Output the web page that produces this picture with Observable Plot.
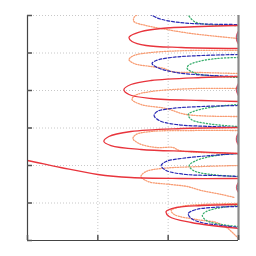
<!DOCTYPE html>
<html><head><meta charset="utf-8">
<script src="https://cdn.jsdelivr.net/npm/d3@7"></script>
<script src="https://cdn.jsdelivr.net/npm/@observablehq/plot@0.6"></script>
<style>body{margin:0;background:#fff}</style>
</head><body><div id="chart"></div>
<script>
const xTicks = [0, 1, 2, 3];
const yTicks = [0, 1, 2, 3, 4, 5, 6];

// red solid
const red1 = [[3,5.733],[2.471,5.707],[1.9,5.653],[1.614,5.573],[1.471,5.467],[1.443,5.413],[1.486,5.307],[1.686,5.2],[2.186,5.147],[3,5.12]];
const red2 = [[3,4.373],[2.471,4.347],[1.757,4.267],[1.471,4.16],[1.371,4.027],[1.443,3.893],[1.757,3.787],[2.471,3.733],[3,3.707]];
const red3 = [[3,3.013],[2.186,2.987],[1.471,2.907],[1.157,2.773],[1.086,2.64],[1.186,2.533],[1.614,2.427],[2.329,2.373],[3,2.32]];
const redLong = [[-0.1,2.16],[0,2.133],[0.471,1.947],[1,1.76],[1.471,1.68],[2.186,1.653],[3,1.653]];
const red4 = [[3,0.96],[2.471,0.933],[2.114,0.88],[1.971,0.773],[2.014,0.64],[2.329,0.48],[3,0.32]];
// blue dashed
const blue1 = [[1.729,6.05],[1.829,5.947],[1.971,5.867],[2.329,5.787],[3,5.76]];
const blue2 = [[3,4.96],[2.471,4.933],[2.043,4.88],[1.829,4.8],[1.771,4.72],[1.843,4.613],[2.114,4.48],[2.614,4.4],[3,4.373]];
const blue3 = [[3,3.6],[2.471,3.573],[2.043,3.52],[1.843,3.44],[1.8,3.333],[1.871,3.2],[2.114,3.093],[2.614,3.04],[3,3.013]];
const blue4 = [[3,2.32],[2.614,2.267],[2.186,2.187],[1.971,2.107],[1.9,2.0],[1.971,1.867],[2.257,1.76],[2.686,1.733],[3,1.707]];
const blue5 = [[3,0.907],[2.614,0.88],[2.4,0.827],[2.286,0.72],[2.329,0.587],[2.471,0.48],[2.757,0.4],[3,0.347]];
// green dotted
const green1 = [[2.271,6.05],[2.371,5.84],[2.571,5.76],[3,5.733]];
const green2 = [[3,4.88],[2.686,4.853],[2.429,4.773],[2.286,4.667],[2.271,4.587],[2.4,4.453],[2.757,4.373],[3,4.347]];
const green3 = [[3,3.627],[2.686,3.573],[2.4,3.467],[2.286,3.36],[2.329,3.227],[2.543,3.12],[3,3.04]];
const green4 = [[3,2.32],[2.686,2.267],[2.4,2.133],[2.3,2.0],[2.357,1.867],[2.614,1.76],[3,1.707]];
const green5 = [[3,0.933],[2.757,0.88],[2.543,0.773],[2.486,0.667],[2.543,0.533],[2.757,0.427],[3,0.373]];
// light orange dotted
const orange1 = [[1.586,6.05],[1.514,5.947],[1.514,5.84],[1.686,5.733],[1.9,5.653],[2.329,5.52],[3,5.387]];
const orange2 = [[3,5.067],[2.329,5.067],[1.757,5.013],[1.514,4.933],[1.443,4.827],[1.514,4.72],[1.757,4.64],[1.943,4.587],[2.043,4.507],[2.471,4.48],[3,4.453]];
const orange3 = [[3,4.053],[2.4,4.053],[1.757,3.973],[1.529,3.867],[1.486,3.76],[1.614,3.627],[1.971,3.52],[2.257,3.36],[3,3.307]];
const orange4 = [[3,2.933],[2.329,2.933],[1.757,2.907],[1.543,2.827],[1.5,2.72],[1.586,2.587],[1.829,2.48],[2.071,2.48],[2.157,2.4],[2.471,2.347],[3,2.32]];
const orange5 = [[3,2.0],[2.471,1.973],[1.9,1.92],[1.686,1.84],[1.614,1.707],[1.714,1.573],[2.043,1.493],[2.271,1.44],[2.471,1.333],[2.757,1.227],[2.943,1.147]];
const orange6 = [[3,0.987],[2.471,0.96],[2.186,0.907],[2.043,0.8],[2.086,0.693],[2.4,0.56],[2.686,0.48],[2.829,0.347],[2.929,0.187],[3,0.053]];
// small loops at the right edge
const edgeRed = [[[3,5.6],[2.975,5.5],[2.968,5.413],[2.975,5.32],[3,5.22]],[[3,4.2],[2.975,4.1],[2.968,4.027],[2.975,3.95],[3,3.85]],[[3,2.88],[2.975,2.79],[2.968,2.707],[2.975,2.62],[3,2.53]],[[3,1.56],[2.977,1.48],[2.97,1.413],[2.977,1.35],[3,1.27]]];
const edgeBlue = [[[3,5.57],[2.98,5.49],[2.975,5.413],[2.98,5.33],[3,5.25]],[[3,4.17],[2.98,4.09],[2.975,4.027],[2.98,3.96],[3,3.88]],[[3,2.85],[2.98,2.77],[2.975,2.707],[2.98,2.64],[3,2.56]],[[3,1.53],[2.982,1.47],[2.977,1.413],[2.982,1.36],[3,1.3]]];
const edgeGreen = [[[3,5.54],[2.985,5.47],[2.981,5.413],[2.985,5.35],[3,5.28]],[[3,4.14],[2.985,4.08],[2.981,4.027],[2.985,3.97],[3,3.91]],[[3,2.82],[2.985,2.76],[2.981,2.707],[2.985,2.65],[3,2.59]],[[3,1.5],[2.987,1.46],[2.983,1.413],[2.987,1.37],[3,1.33]]];

const rows = [];
function add(arr, id, kind){ arr.forEach(([x,y]) => rows.push({x, y, id, kind})); }
[red1, red2, red3, redLong, red4].forEach((a,i) => add(a, "r"+i, "red"));
[blue1, blue2, blue3, blue4, blue5].forEach((a,i) => add(a, "b"+i, "blue"));
[green1, green2, green3, green4, green5].forEach((a,i) => add(a, "g"+i, "green"));
[orange1, orange2, orange3, orange4, orange5, orange6].forEach((a,i) => add(a, "o"+i, "orange"));
edgeRed.forEach((a,i) => add(a, "er"+i, "redE"));
edgeBlue.forEach((a,i) => add(a, "eb"+i, "blueE"));
edgeGreen.forEach((a,i) => add(a, "eg"+i, "greenE"));

const styles = {
  red:    {stroke: "#e8343c", strokeWidth: 1.3},
  orange: {stroke: "#f89d74", strokeWidth: 1.3, strokeDasharray: "1.2,1.4"},
  blue:   {stroke: "#2a2ab4", strokeWidth: 1.2, strokeDasharray: "3,1.8"},
  green:  {stroke: "#3aae6e", strokeWidth: 1.3, strokeDasharray: "1.2,2"},
  redE:   {stroke: "#e8343c", strokeWidth: 1, strokeOpacity: 0.8},
  blueE:  {stroke: "#2a2ab4", strokeWidth: 1, strokeOpacity: 0.7},
  greenE: {stroke: "#3aae6e", strokeWidth: 1, strokeOpacity: 0.8}
};

const chart = Plot.plot({
  width: 256, height: 256,
  marginLeft: 27, marginRight: 18, marginTop: 15, marginBottom: 16,
  x: {domain: [0, 3], label: null},
  y: {domain: [0, 6], label: null},
  marks: [
    Plot.gridX(xTicks, {stroke: "#c8c8c8", strokeOpacity: 1, strokeDasharray: "1,2"}),
    Plot.gridY(yTicks, {stroke: "#c8c8c8", strokeOpacity: 1, strokeDasharray: "1,2"}),
    ...["orange", "green", "blue", "red", "greenE", "blueE", "redE"].map(k =>
      Plot.line(rows.filter(d => d.kind === k), {x: "x", y: "y", z: "id", curve: "catmull-rom", clip: true, ...styles[k]})),
    Plot.ruleX([3], {stroke: "#8a8a8a", strokeWidth: 2.2}),
    Plot.ruleX([0], {stroke: "#444", strokeWidth: 1.2}),
    Plot.ruleY([0], {stroke: "#444", strokeWidth: 1.2}),
    Plot.axisX(xTicks, {tickSize: -5, tickFormat: () => "", label: null, stroke: "#555", strokeWidth: 1.5}),
    Plot.axisY(yTicks, {tickSize: -5, tickFormat: () => "", label: null, stroke: "#555", strokeWidth: 1.5})
  ]
});
document.getElementById("chart").appendChild(chart);
</script>
</body></html>
